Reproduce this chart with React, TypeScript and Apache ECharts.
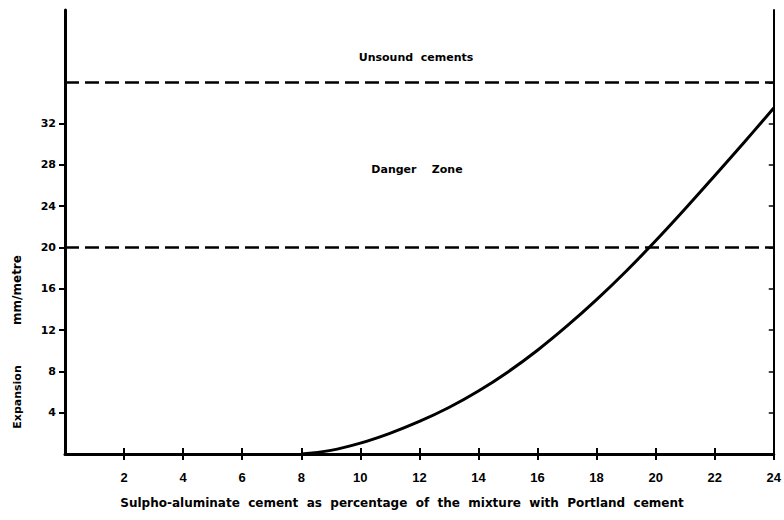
import React, { useEffect, useRef } from "react";
import * as echarts from "echarts";

const curveX = [8, 9, 10, 11, 12, 13, 14, 15, 16, 17, 18, 19, 20, 21, 22, 23, 24];
const curveY = [0, 0.35, 1.05, 2.0, 3.15, 4.5, 6.1, 7.95, 10.05, 12.4, 14.95, 17.7, 20.65, 23.75, 26.95, 30.2, 33.5];
const xTicks = [2, 4, 6, 8, 10, 12, 14, 16, 18, 20, 22, 24];
const yTicks = [4, 8, 12, 16, 20, 24, 28, 32];
const rightTicks = [4, 8, 12, 16, 20, 24, 28, 32, 36];
const zoneLimits = [20, 36];
const xTitle = "Sulpho-aluminate  cement  as  percentage  of  the  mixture  with  Portland  cement";
const yTitleParts = ["Expansion", "mm/metre"];
const zoneTexts = ["Unsound  cements", "Danger    Zone"];

const DV = "DejaVu Sans";
const LB = "Liberation Sans";

export default function App() {
  const ref = useRef<HTMLDivElement>(null);
  useEffect(() => {
    if (!ref.current) return;
    const chart = echarts.init(ref.current, null, { renderer: "svg" });
    const data = curveX.map((x, i) => [x, curveY[i]]);
    const txt = (text: string, x: number, y: number, font: string, rotation = 0) => ({
      type: "text",
      x,
      y,
      rotation,
      style: { text, fill: "#000", font, textAlign: "center", textVerticalAlign: "middle" },
    });
    chart.setOption({
      animation: false,
      backgroundColor: "#fff",
      grid: { left: 65, right: 8, top: 10, bottom: 66 },
      xAxis: [
        {
          type: "value",
          min: 0,
          max: 24,
          interval: 2,
          position: "bottom",
          axisLine: { onZero: false, lineStyle: { color: "#000", width: 3 } },
          axisTick: { show: true, length: 6, customValues: xTicks, lineStyle: { color: "#000", width: 2 } },
          axisLabel: {
            customValues: xTicks,
            color: "#000",
            fontFamily: LB,
            fontWeight: "bold",
            fontSize: 13,
            margin: 17,
          },
          splitLine: { show: false },
        },
        {
          type: "value",
          min: 0,
          max: 24,
          interval: 2,
          position: "bottom",
          axisLine: { show: false, onZero: false },
          axisTick: { show: true, inside: true, length: 6, customValues: xTicks, lineStyle: { color: "#000", width: 2 } },
          axisLabel: { show: false },
          splitLine: { show: false },
        },
      ],
      yAxis: [
        {
          type: "value",
          min: 0,
          max: 43,
          interval: 4,
          position: "left",
          axisLine: { show: true, onZero: false, lineStyle: { color: "#000", width: 3 } },
          axisTick: { show: true, length: 6, customValues: yTicks, lineStyle: { color: "#000", width: 2 } },
          axisLabel: {
            customValues: yTicks,
            color: "#000",
            fontFamily: DV,
            fontWeight: "bold",
            fontSize: 11,
            margin: 9,
          },
          splitLine: { show: false },
        },
        {
          type: "value",
          min: 0,
          max: 43,
          interval: 4,
          position: "right",
          axisLine: { show: true, onZero: false, lineStyle: { color: "#000", width: 2 } },
          axisTick: { show: true, inside: true, length: 5, customValues: rightTicks, lineStyle: { color: "#000", width: 1.5 } },
          axisLabel: { show: false },
          splitLine: { show: false },
        },
      ],
      series: [
        {
          type: "line",
          data,
          smooth: 0.4,
          showSymbol: false,
          symbol: "none",
          lineStyle: { color: "#000", width: 3 },
          markLine: {
            silent: true,
            symbol: ["none", "none"],
            label: { show: false },
            lineStyle: { color: "#000", width: 2.5, type: [14, 6] },
            data: zoneLimits.map((v) => ({ yAxis: v })),
          },
        },
      ],
      graphic: [
        txt(zoneTexts[0], 416, 57, `bold 11px "${DV}"`),
        txt(zoneTexts[1], 417, 169, `bold 11px "${DV}"`),
        txt(yTitleParts[0], 17, 397, `bold 11px "${DV}"`, Math.PI / 2),
        txt(yTitleParts[1], 17, 290, `bold 12px "${DV}"`, Math.PI / 2),
        txt(xTitle, 402, 503, `bold 12px "${DV}"`),
      ],
    });
    return () => chart.dispose();
  }, []);
  return (
    <div
      ref={ref}
      style={{ position: "fixed", left: 0, top: 0, width: 784, height: 520, background: "#fff" }}
    />
  );
}
